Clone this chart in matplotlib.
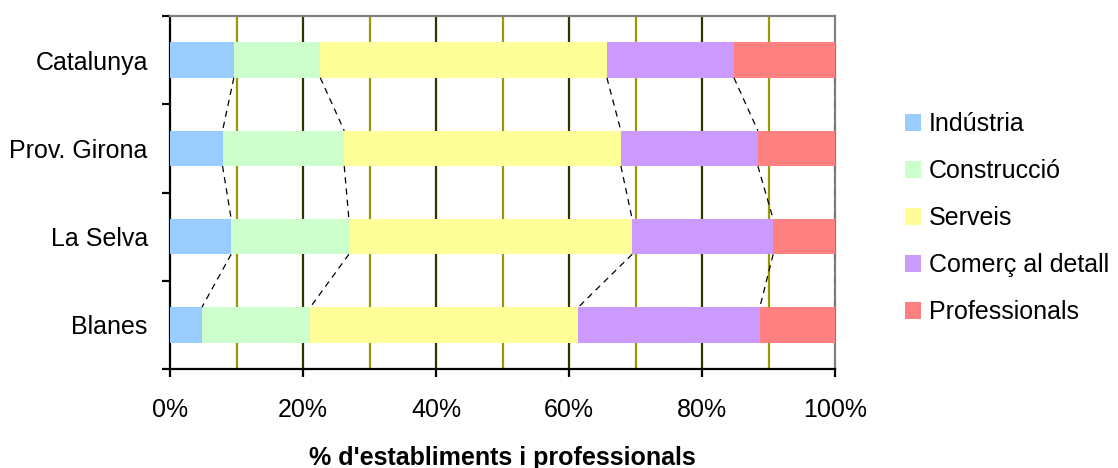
import matplotlib
matplotlib.use("Agg")
import matplotlib.pyplot as plt
import numpy as np

plt.rcParams['font.family'] = ['Liberation Sans', 'DejaVu Sans']

categories = ["Catalunya", "Prov. Girona", "La Selva", "Blanes"]
series_names = ["Indústria", "Construcció", "Serveis", "Comerç al detall", "Professionals"]
industria = [9.6, 7.9, 9.2, 4.8]
construccio = [13.0, 18.3, 17.7, 16.3]
serveis = [43.1, 41.6, 42.6, 40.3]
comerc = [19.1, 20.6, 21.2, 27.3]
professionals = [15.2, 11.6, 9.3, 11.3]
colors = ["#99CCFF", "#CCFFCC", "#FFFF99", "#CC99FF", "#FF8080"]
xticks = [0, 20, 40, 60, 80, 100]
xticklabels = ["0%", "20%", "40%", "60%", "80%", "100%"]
xlabel = "% d'establiments i professionals"

data = np.array([industria, construccio, serveis, comerc, professionals])
data = data / data.sum(axis=0) * 100

fig = plt.figure(figsize=(11.18, 4.68), dpi=100)
ax = fig.add_axes([170/1118, 1-369/468, (835-170)/1118, (369-16)/468])

y = np.arange(len(categories))
bh = 0.4
left = np.zeros(len(categories))
for i, name in enumerate(series_names):
    ax.barh(y, data[i], left=left, height=bh, color=colors[i], label=name, zorder=3, linewidth=0)
    left = left + data[i]

# series lines
cum = np.cumsum(data, axis=0)
for i in range(cum.shape[0]):
    for j in range(len(categories) - 1):
        ax.plot([cum[i, j], cum[i, j+1]], [y[j] + bh/2, y[j+1] - bh/2],
                color="black", lw=0.9, ls=(0, (5, 4)), zorder=4)

# gridlines
for g in [10, 30, 50, 70, 90]:
    ax.axvline(g, color="#999900", lw=1.6, zorder=1)
for g in [20, 40, 60, 80]:
    ax.axvline(g, color="#333300", lw=1.6, zorder=1)

ax.set_xlim(0, 100)
ax.set_ylim(len(categories) - 0.5, -0.5)

ax.set_xticks(xticks)
ax.set_xticklabels(xticklabels, fontsize=18)
ax.set_yticks(np.arange(-0.5, len(categories), 1.0))
ax.set_yticklabels([])
ax.set_yticks(y, minor=True)
ax.set_yticklabels(categories, minor=True, fontsize=18)
ax.tick_params(axis='y', which='minor', length=0, pad=16)
ax.tick_params(axis='y', which='major', length=6, width=1.6, direction='out')
ax.tick_params(axis='x', which='major', length=6, width=1.6, direction='out', pad=15)

for s in ['left', 'bottom']:
    ax.spines[s].set_color('black')
    ax.spines[s].set_linewidth(1.6)
for s in ['top', 'right']:
    ax.spines[s].set_color('#808080')
    ax.spines[s].set_linewidth(1.6)

ax.set_xlabel(xlabel, fontsize=18, fontweight='bold', labelpad=17)

handles, labels = ax.get_legend_handles_labels()
fig.legend(handles, labels, loc='center left', bbox_to_anchor=(905/1118, 1-218/468),
           frameon=False, fontsize=18, borderaxespad=0, borderpad=0,
           handlelength=0.65, handleheight=0.65, handletextpad=0.3, labelspacing=0.92)

fig.savefig("out.png", dpi=100)
